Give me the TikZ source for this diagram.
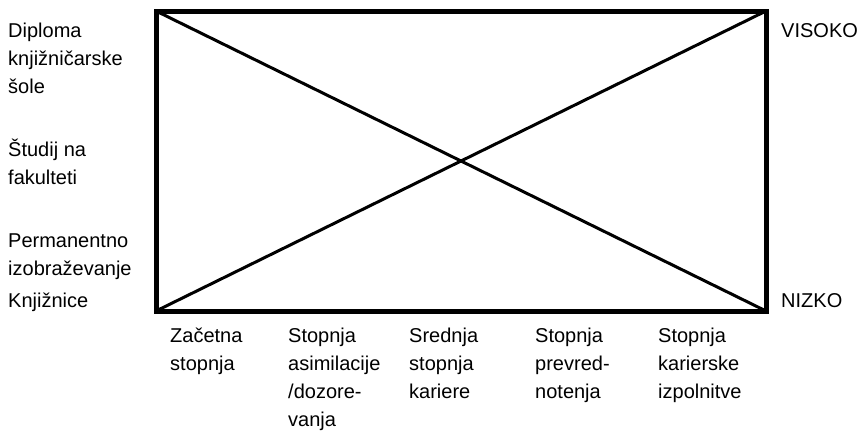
\documentclass[tikz,border=0pt]{standalone}
\usepackage{fontspec}
\setmainfont{Liberation Sans}
\begin{document}
\begin{tikzpicture}[x=1pt,y=-1pt,
  lbl/.style={inner sep=0pt, anchor=base west, align=left,
    font=\fontsize{20}{28}\selectfont},
  frame/.style={line width=5pt, line join=miter},
  diag/.style={line width=3pt}]
\useasboundingbox (0,0) rectangle (859,432);
\coordinate (tl) at (156,11);
\coordinate (tr) at (766,11);
\coordinate (br) at (766,311);
\coordinate (bl) at (156,311);
\draw[frame] (tl) -- (tr) -- (br) -- (bl) -- cycle;
\draw[diag] (tl) -- (br);
\draw[diag] (bl) -- (tr);
% left labels (base anchor = baseline of last line)
\node[lbl] (dip) at (8,93) {Diploma\\knjižničarske\\šole};
\node[lbl] (stu) at (8,184) {Študij na\\fakulteti};
\node[lbl] (per) at (8,275) {Permanentno\\izobraževanje};
\node[lbl] (knj) at (8,307) {Knjižnice};
% right labels
\node[lbl] (vis) at (781,37) {VISOKO};
\node[lbl] (niz) at (781,307) {NIZKO};
% bottom labels
\node[lbl] (b1) at (170,370) {Začetna\\stopnja};
\node[lbl] (b2) at (288,426) {Stopnja\\asimilacije\\/dozore-\\vanja};
\node[lbl] (b3) at (409,398) {Srednja\\stopnja\\kariere};
\node[lbl] (b4) at (535,398) {Stopnja\\prevred-\\notenja};
\node[lbl] (b5) at (658,398) {Stopnja\\karierske\\izpolnitve};
\end{tikzpicture}
\end{document}
